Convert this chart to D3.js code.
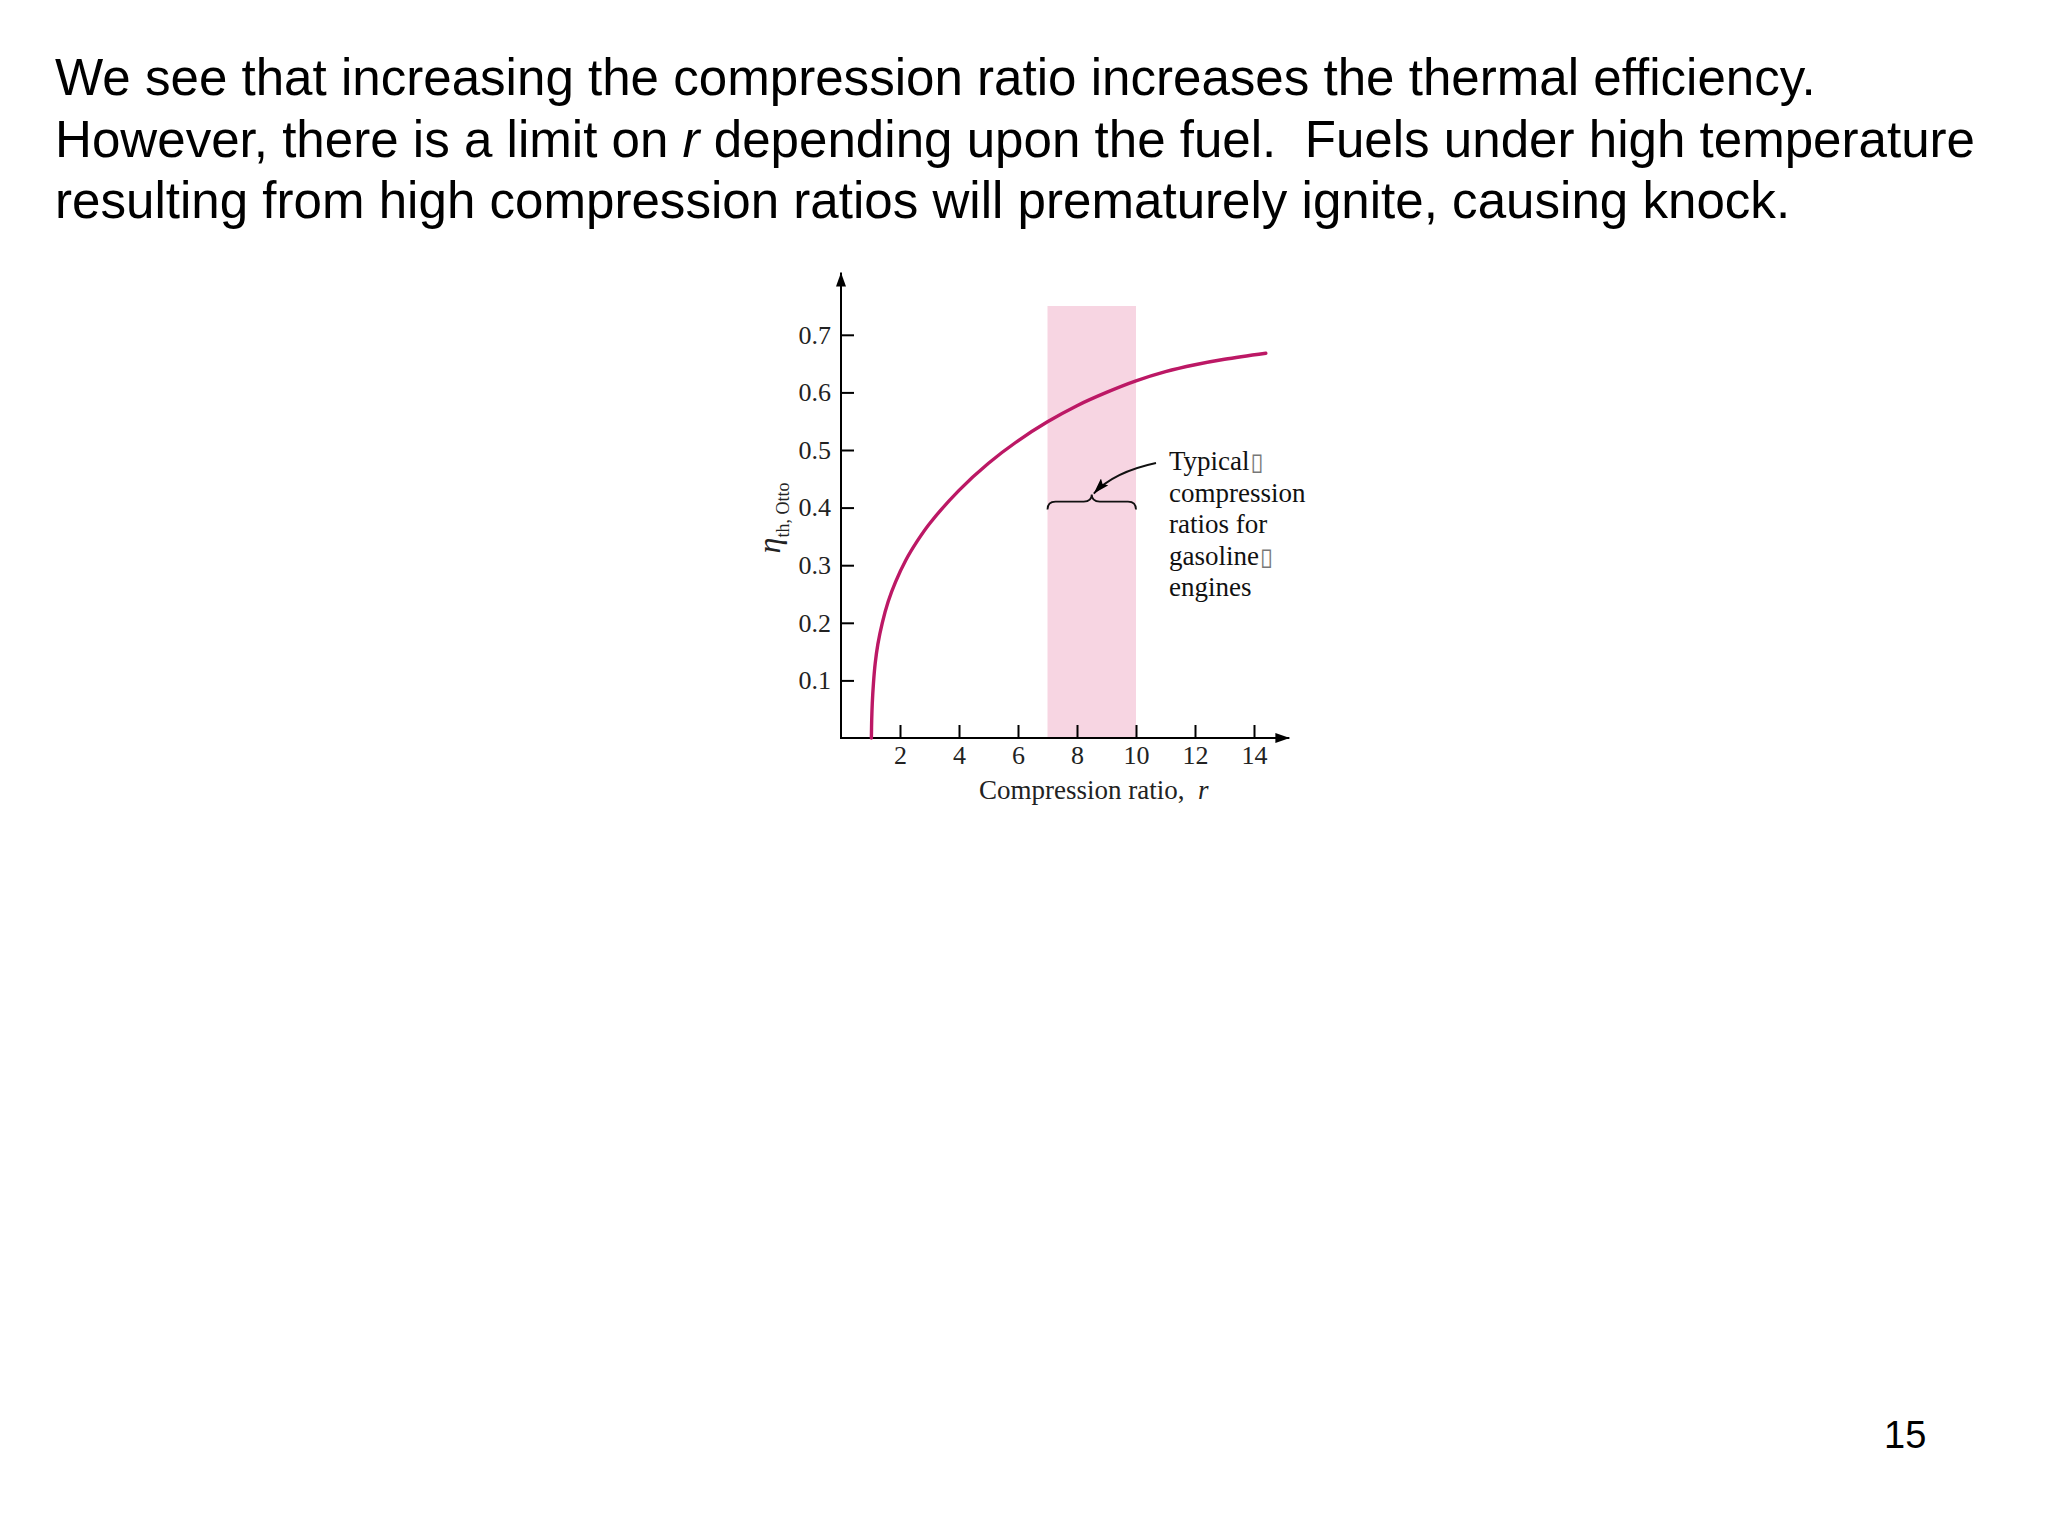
<!DOCTYPE html>
<html>
<head>
<meta charset="utf-8">
<script src="https://cdn.jsdelivr.net/npm/d3@7"></script>
<style>
  body { margin: 0; background: #fff; }
  svg { display: block; }
</style>
</head>
<body>
<div id="slide"></div>
<script>
/* Slide text */
const PARAGRAPH = [
  ["We see that increasing the compression ratio increases the thermal efficiency."],
  ["However, there is a limit on ", {i: "r"}, " depending upon the fuel.  Fuels under high temperature"],
  ["resulting from high compression ratios will prematurely ignite, causing knock."]
]
const PAGE_NUMBER = "15"

/* Curve: compression ratio r vs eta_th,Otto */
const rValues   = [1.03, 1.04, 1.06, 1.10, 1.16, 1.25, 1.40, 1.60, 1.85, 2.20, 2.60, 3.00, 4.00, 5.00, 6.00, 7.00, 8.00, 9.00, 10.00, 11.00, 12.00, 13.00, 14.40]
const etaValues = [0.00, 0.03, 0.06, 0.095, 0.13, 0.163, 0.20, 0.237, 0.271, 0.309, 0.343, 0.372, 0.430, 0.477, 0.516, 0.549, 0.577, 0.600, 0.620, 0.636, 0.648, 0.6575, 0.668]

/* Axes */
const xTicks = [2, 4, 6, 8, 10, 12, 14]
const yTicks = [0.1, 0.2, 0.3, 0.4, 0.5, 0.6, 0.7]

/* Shaded band of typical ratios */
const bandR = [7, 10]
const bandTop = 0.75
const braceTip = 8.5
const braceLevel = 0.4
const noteLines = ["Typical", "compression", "ratios for", "gasoline", "engines"]
const noteTofu = [true, false, false, true, false]

/* Constants */
const WIDTH = 2048
const HEIGHT = 1536
const SERIF = "'Liberation Serif', 'Times New Roman', serif"
const SANS = "'Liberation Sans', Arial, sans-serif"
const CURVE_COLOR = "#bc1865"
const BAND_COLOR = "#f7d5e2"

const svg = d3.select("#slide")
              .append("svg")
              .attr("width", WIDTH)
              .attr("height", HEIGHT);

svg.append("rect").attr("width", WIDTH).attr("height", HEIGHT).attr("fill", "#fff");

/* Paragraph */
const para = svg.append("g").attr("font-family", SANS).attr("font-size", 51.1).attr("fill", "#000");
PARAGRAPH.forEach((line, i) => {
  const t = para.append("text")
                .attr("x", 55)
                .attr("y", 95 + i * 61.5)
                .attr("xml:space", "preserve");
  line.forEach((part) => {
    if (typeof part === "string") t.append("tspan").text(part);
    else t.append("tspan").attr("font-style", "italic").text(part.i);
  });
});

svg.append("text")
   .attr("x", 1884)
   .attr("y", 1448)
   .attr("font-family", SANS)
   .attr("font-size", 38)
   .text(PAGE_NUMBER);

/* Scales */
const xScale = d3.scaleLinear().domain([0, 14]).range([841, 1254]);
const yScale = d3.scaleLinear().domain([0, 0.7]).range([738, 334.8]);

/* Band */
svg.append("rect")
   .attr("x", xScale(bandR[0]))
   .attr("y", yScale(bandTop))
   .attr("width", xScale(bandR[1]) - xScale(bandR[0]))
   .attr("height", yScale(0) - yScale(bandTop))
   .attr("fill", BAND_COLOR);

/* Arrow markers */
const defs = svg.append("defs");
defs.append("marker")
    .attr("id", "axisArrow")
    .attr("viewBox", "0 0 14 10")
    .attr("refX", 14).attr("refY", 5)
    .attr("markerWidth", 14).attr("markerHeight", 10)
    .attr("markerUnits", "userSpaceOnUse")
    .attr("orient", "auto")
    .append("path").attr("d", "M0,0 L14,5 L0,10 Z").attr("fill", "#000");
defs.append("marker")
    .attr("id", "noteArrow")
    .attr("viewBox", "0 0 16 10")
    .attr("refX", 16).attr("refY", 5)
    .attr("markerWidth", 16).attr("markerHeight", 10)
    .attr("markerUnits", "userSpaceOnUse")
    .attr("orient", "auto")
    .append("path").attr("d", "M0,0 L16,5 L0,10 L3,5 Z").attr("fill", "#000");

/* Axis lines with arrows */
svg.append("line")
   .attr("x1", xScale(0)).attr("y1", yScale(0))
   .attr("x2", xScale(15.2)).attr("y2", yScale(0))
   .attr("stroke", "#000").attr("stroke-width", 2)
   .attr("marker-end", "url(#axisArrow)");
svg.append("line")
   .attr("x1", xScale(0)).attr("y1", yScale(0) + 1)
   .attr("x2", xScale(0)).attr("y2", yScale(0.808))
   .attr("stroke", "#000").attr("stroke-width", 2)
   .attr("marker-end", "url(#axisArrow)");

/* Axes (ticks pointing inward) */
const xAxis = d3.axisBottom(xScale).tickValues(xTicks).tickSizeInner(-13).tickSizeOuter(0).tickPadding(8);
const yAxis = d3.axisLeft(yScale).tickValues(yTicks).tickSizeInner(-13).tickSizeOuter(0).tickPadding(10).tickFormat(d3.format(".1f"));
const gx = svg.append("g").attr("transform", "translate(0," + yScale(0) + ")").call(xAxis);
const gy = svg.append("g").attr("transform", "translate(" + xScale(0) + ",0)").call(yAxis);
[gx, gy].forEach((g) => {
  g.select(".domain").remove();
  g.selectAll(".tick line").attr("stroke", "#000").attr("stroke-width", 2);
  g.selectAll(".tick text").attr("font-family", SERIF).attr("font-size", 26).attr("fill", "#222");
});

/* Curve */
const points = rValues.map((r, i) => [r, etaValues[i]]);
const line = d3.line()
               .x((d) => xScale(d[0]))
               .y((d) => yScale(d[1]))
               .curve(d3.curveCatmullRom.alpha(0.5));
svg.append("path")
   .attr("d", line(points))
   .attr("fill", "none")
   .attr("stroke", CURVE_COLOR)
   .attr("stroke-width", 3.4)
   .attr("stroke-linecap", "round");

/* Brace over the band */
const bx0 = xScale(bandR[0]), bx1 = xScale(bandR[1]), bxm = xScale(braceTip);
const by = yScale(braceLevel) - 6;
const brace = d3.path();
brace.moveTo(bx0, by + 8);
brace.quadraticCurveTo(bx0, by, bx0 + 8, by);
brace.lineTo(bxm - 8, by);
brace.quadraticCurveTo(bxm, by, bxm, by - 7);
brace.quadraticCurveTo(bxm, by, bxm + 8, by);
brace.lineTo(bx1 - 8, by);
brace.quadraticCurveTo(bx1, by, bx1, by + 8);
svg.append("path")
   .attr("d", brace.toString())
   .attr("fill", "none")
   .attr("stroke", "#111")
   .attr("stroke-width", 1.8);

/* Note text and arrow */
const noteX = 1169, noteY = 470, noteStep = 31.5;
const note = svg.append("g").attr("font-family", SERIF).attr("font-size", 27).attr("fill", "#111");
noteLines.forEach((s, i) => {
  const t = note.append("text").attr("x", noteX).attr("y", noteY + i * noteStep);
  t.append("tspan").text(s);
  if (noteTofu[i]) t.append("tspan").attr("font-family", "'DejaVu Sans', sans-serif").attr("font-size", 24).attr("fill", "#777").attr("dx", 1).text("\u25AF");
});
const arrowPath = d3.path();
arrowPath.moveTo(noteX - 13, noteY - 7);
arrowPath.quadraticCurveTo(bxm + 22, noteY + 2, bxm + 2, by - 8);
svg.append("path")
   .attr("d", arrowPath.toString())
   .attr("fill", "none")
   .attr("stroke", "#111")
   .attr("stroke-width", 1.8)
   .attr("marker-end", "url(#noteArrow)");

/* Axis titles */
svg.append("text")
   .attr("x", 979)
   .attr("y", 799)
   .attr("font-family", SERIF)
   .attr("font-size", 27)
   .attr("fill", "#222")
   .attr("xml:space", "preserve")
   .call((t) => {
     t.append("tspan").text("Compression ratio,  ");
     t.append("tspan").attr("font-style", "italic").text("r");
   });

const ylab = svg.append("text")
   .attr("transform", "translate(780,518) rotate(-90)")
   .attr("text-anchor", "middle")
   .attr("font-family", SERIF)
   .attr("fill", "#222");
ylab.append("tspan").attr("font-style", "italic").attr("font-size", 32).text("\u03B7");
ylab.append("tspan").attr("font-size", 18).attr("dy", 9).text("th, Otto");
</script>
</body>
</html>
